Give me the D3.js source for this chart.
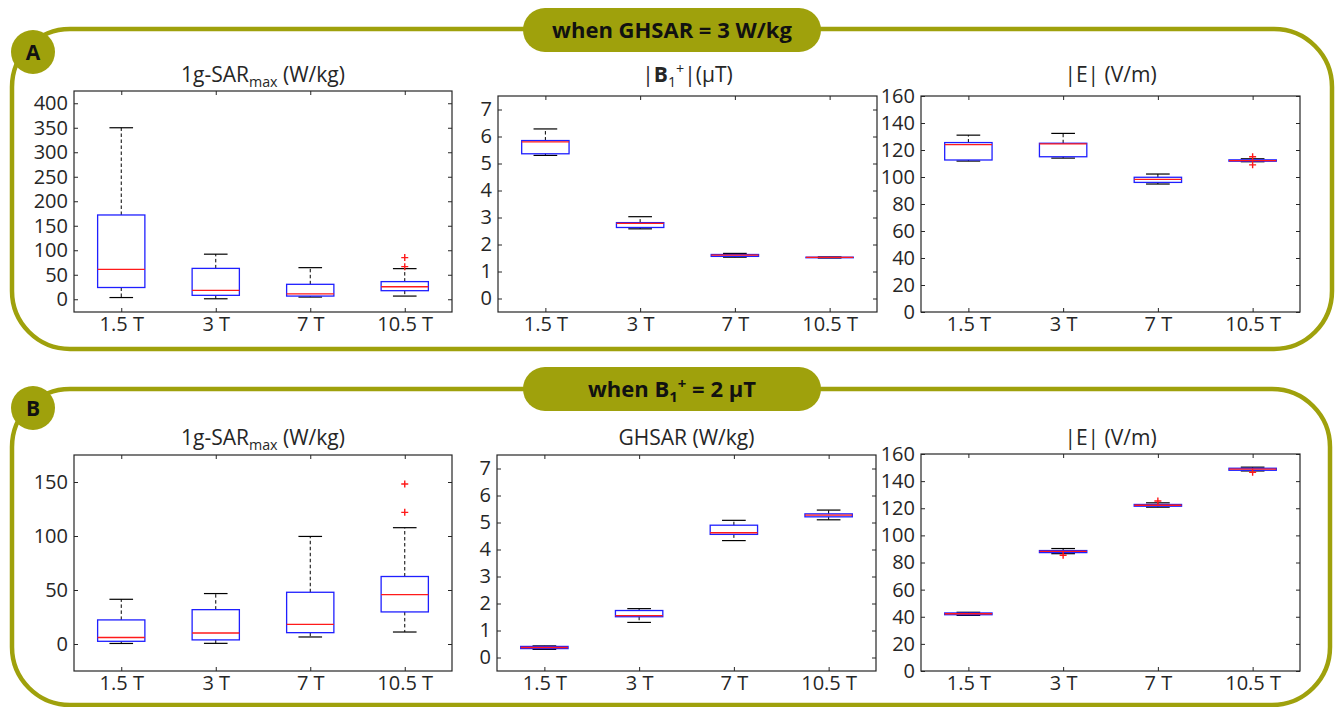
<!DOCTYPE html>
<html>
<head>
<meta charset="utf-8">
<script src="https://cdn.jsdelivr.net/npm/d3@7"></script>
<style>
  body { margin: 0; background: #fff; }
  text { font-family: 'Open Sans', sans-serif; }
</style>
</head>
<body>
<svg id="mainsvg" width="1336" height="707"></svg>
<script>
// field strengths on every x axis
const fields = ['1.5 T', '3 T', '7 T', '10.5 T']

// each box: [whisker low, q1, median, q3, whisker high]
// A: when GHSAR = 3 W/kg
const sarA = [[3.5, 24, 61, 172, 350], [1, 8, 18, 63, 92], [4.5, 6.5, 11, 30.5, 64.5], [6.5, 17.5, 25.5, 36, 62.5]]
const sarAOut = [[], [], [], [85, 66.5]]
const b1A = [[5.3, 5.36, 5.8, 5.85, 6.28], [2.58, 2.63, 2.78, 2.81, 3.03], [1.53, 1.56, 1.61, 1.63, 1.67], [1.5, 1.51, 1.52, 1.53, 1.54]]
const b1AOut = [[], [], [], []]
const eA = [[111.8, 112.6, 124, 125.5, 131], [114, 115, 124.5, 125, 132.3], [94.8, 96, 98.3, 99.8, 102.2], [111.3, 111.7, 112.2, 112.7, 113.5]]
const eAOut = [[], [], [], [115, 109]]

// B: when B1+ = 2 uT
const sarB = [[0.5, 2.5, 6, 22.3, 41.4], [0.6, 3.8, 10.2, 31.8, 46.7], [6.5, 10.5, 18.2, 47.9, 99.6], [11.1, 29.7, 45.8, 62.5, 107.7]]
const sarBOut = [[], [], [], [148.2, 121.9]]
const ghB = [[0.3, 0.33, 0.37, 0.41, 0.43], [1.3, 1.51, 1.55, 1.74, 1.81], [4.33, 4.56, 4.62, 4.9, 5.08], [5.1, 5.21, 5.27, 5.32, 5.46]]
const ghBOut = [[], [], [], []]
const eB = [[41, 41.5, 42.2, 42.8, 43.3], [86.5, 87.3, 88.2, 88.8, 90.3], [120.8, 121.5, 122.2, 122.8, 124], [147.5, 148, 148.8, 149.5, 150.3]]
const eBOut = [[], [85.3], [125.3], [146.5]]

// y tick values
const sarATicks = [0, 50, 100, 150, 200, 250, 300, 350, 400]
const sarBTicks = [0, 50, 100, 150]
const unitTicks = [0, 1, 2, 3, 4, 5, 6, 7]
const eTicks = [0, 20, 40, 60, 80, 100, 120, 140, 160]

const olive = '#9fa10c'
const ink = '#262626'
const svg = d3.select('#mainsvg')

function drawFrame(x, y, w, h, letter, letterY, badgeParts, badgeY) {
    svg.append('rect')
        .attr('x', x).attr('y', y)
        .attr('width', w).attr('height', h)
        .attr('rx', 58).attr('ry', 58)
        .attr('fill', 'none')
        .attr('stroke', olive)
        .attr('stroke-width', 4.5)

    svg.append('circle')
        .attr('cx', 33).attr('cy', letterY).attr('r', 22)
        .attr('fill', olive)
    svg.append('text')
        .attr('x', 33).attr('y', letterY).attr('dy', '0.36em')
        .attr('text-anchor', 'middle')
        .attr('font-weight', 'bold')
        .attr('font-size', 21)
        .attr('fill', '#111')
        .text(letter)

    svg.append('rect')
        .attr('x', 523).attr('y', badgeY - 22)
        .attr('width', 298).attr('height', 44)
        .attr('rx', 22).attr('ry', 22)
        .attr('fill', olive)
    const t = svg.append('text')
        .attr('x', 672).attr('y', badgeY + 8)
        .attr('text-anchor', 'middle')
        .attr('font-weight', 'bold')
        .attr('font-size', 22)
        .attr('fill', '#111')
    addParts(t, badgeParts, 22)
}

// text with sub / superscripts
function addParts(t, parts, size) {
    let shift = 0
    parts.forEach(p => {
        let target = p.sub ? 5 : p.sup ? -8 : 0
        const s = t.append('tspan')
            .attr('dy', target - shift)
            .attr('font-size', p.sub || p.sup ? size * 0.68 : size)
            .text(p.t)
        if (p.bold) s.attr('font-weight', 'bold')
        shift = target
    })
}

function drawBoxPlot(area, yDomain, yTicks, boxes, outliers, titleParts) {
    const g = svg.append('g')
    const x = d3.scaleLinear().domain([0.5, 4.5]).range([area.x0, area.x1])
    const y = d3.scaleLinear().domain(yDomain).range([area.y1, area.y0])

    // axes: labelled left/bottom, mirrored ticks top/right, all pointing inward
    const xTicks = [1, 2, 3, 4]
    g.append('g').attr('transform', `translate(0,${area.y1})`)
        .call(d3.axisBottom(x).tickValues(xTicks).tickSizeInner(-4).tickSizeOuter(0).tickPadding(5)
            .tickFormat(d => fields[d - 1]))
    g.append('g').attr('transform', `translate(0,${area.y0})`)
        .call(d3.axisTop(x).tickValues(xTicks).tickSizeInner(-4).tickSizeOuter(0).tickFormat(''))
    g.append('g').attr('transform', `translate(${area.x0},0)`)
        .call(d3.axisLeft(y).tickValues(yTicks).tickSizeInner(-4).tickSizeOuter(0).tickPadding(6))
    g.append('g').attr('transform', `translate(${area.x1},0)`)
        .call(d3.axisRight(y).tickValues(yTicks).tickSizeInner(-4).tickSizeOuter(0).tickFormat(''))

    g.selectAll('.domain').remove()
    g.selectAll('.tick line').attr('stroke', ink)
    g.selectAll('.tick text')
        .attr('fill', ink)
        .attr('font-size', 20)
        .attr('font-family', "'Open Sans', sans-serif")

    g.append('rect')
        .attr('x', area.x0).attr('y', area.y0)
        .attr('width', area.x1 - area.x0).attr('height', area.y1 - area.y0)
        .attr('fill', 'none')
        .attr('stroke', ink)
        .attr('stroke-width', 1.2)

    const half = x(1.25) - x(1)
    const cap = x(1.125) - x(1)
    boxes.forEach((b, i) => {
        const cx = x(i + 1)
        const [lo, q1, med, q3, hi] = b
        // whiskers
        g.append('line').attr('x1', cx).attr('x2', cx).attr('y1', y(q3)).attr('y2', y(hi))
            .attr('stroke', '#000').attr('stroke-dasharray', '3.5,2.5')
        g.append('line').attr('x1', cx).attr('x2', cx).attr('y1', y(q1)).attr('y2', y(lo))
            .attr('stroke', '#000').attr('stroke-dasharray', '3.5,2.5')
        ;[lo, hi].forEach(v => {
            g.append('line').attr('x1', cx - cap).attr('x2', cx + cap).attr('y1', y(v)).attr('y2', y(v))
                .attr('stroke', '#000').attr('stroke-width', 1.2)
        })
        g.append('rect')
            .attr('x', cx - half).attr('y', y(q3))
            .attr('width', half * 2).attr('height', Math.max(y(q1) - y(q3), 0.5))
            .attr('fill', 'none')
            .attr('stroke', '#1f1fff')
            .attr('stroke-width', 1.3)
        g.append('line').attr('x1', cx - half).attr('x2', cx + half).attr('y1', y(med)).attr('y2', y(med))
            .attr('stroke', '#ff1a1a').attr('stroke-width', 1.3)
        outliers[i].forEach(v => {
            g.append('path')
                .attr('d', `M${cx - 3.5},${y(v)}H${cx + 3.5}M${cx},${y(v) - 3.5}V${y(v) + 3.5}`)
                .attr('stroke', '#ff1a1a').attr('stroke-width', 1.4)
        })
    })

    const t = g.append('text')
        .attr('x', (area.x0 + area.x1) / 2)
        .attr('y', area.titleY)
        .attr('text-anchor', 'middle')
        .attr('font-size', 21)
        .attr('fill', ink)
    addParts(t, titleParts, 21)
}

drawFrame(12, 29, 1320, 320, 'A', 52, [{t: 'when GHSAR = 3 W/kg'}], 30)
drawFrame(12, 389, 1318, 316, 'B', 408,
    [{t: 'when B'}, {t: '1', sub: true}, {t: '+', sup: true}, {t: ' = 2 \u00b5T'}], 389)

const sarTitle = [{t: '1g-SAR'}, {t: 'max', sub: true}, {t: ' (W/kg)'}]
const eTitle = [{t: '|E| (V/m)'}]

drawBoxPlot({x0: 74, x1: 452, y0: 91, y1: 312, titleY: 82}, [-26, 425], sarATicks, sarA, sarAOut, sarTitle)
drawBoxPlot({x0: 498, x1: 877, y0: 96, y1: 312, titleY: 82}, [-0.5, 7.5], unitTicks, b1A, b1AOut,
    [{t: '|'}, {t: 'B', bold: true}, {t: '1', sub: true}, {t: '+', sup: true}, {t: '|(\u03bcT)'}])
drawBoxPlot({x0: 921, x1: 1300, y0: 96, y1: 312, titleY: 82}, [0, 160], eTicks, eA, eAOut, eTitle)

drawBoxPlot({x0: 74, x1: 452, y0: 455, y1: 671, titleY: 445}, [-25, 175], sarBTicks, sarB, sarBOut, sarTitle)
drawBoxPlot({x0: 497, x1: 876, y0: 455, y1: 671, titleY: 445}, [-0.5, 7.5], unitTicks, ghB, ghBOut,
    [{t: 'GHSAR (W/kg)'}])
drawBoxPlot({x0: 921, x1: 1300, y0: 454, y1: 671, titleY: 445}, [0, 160], eTicks, eB, eBOut, eTitle)
</script>
</body>
</html>
